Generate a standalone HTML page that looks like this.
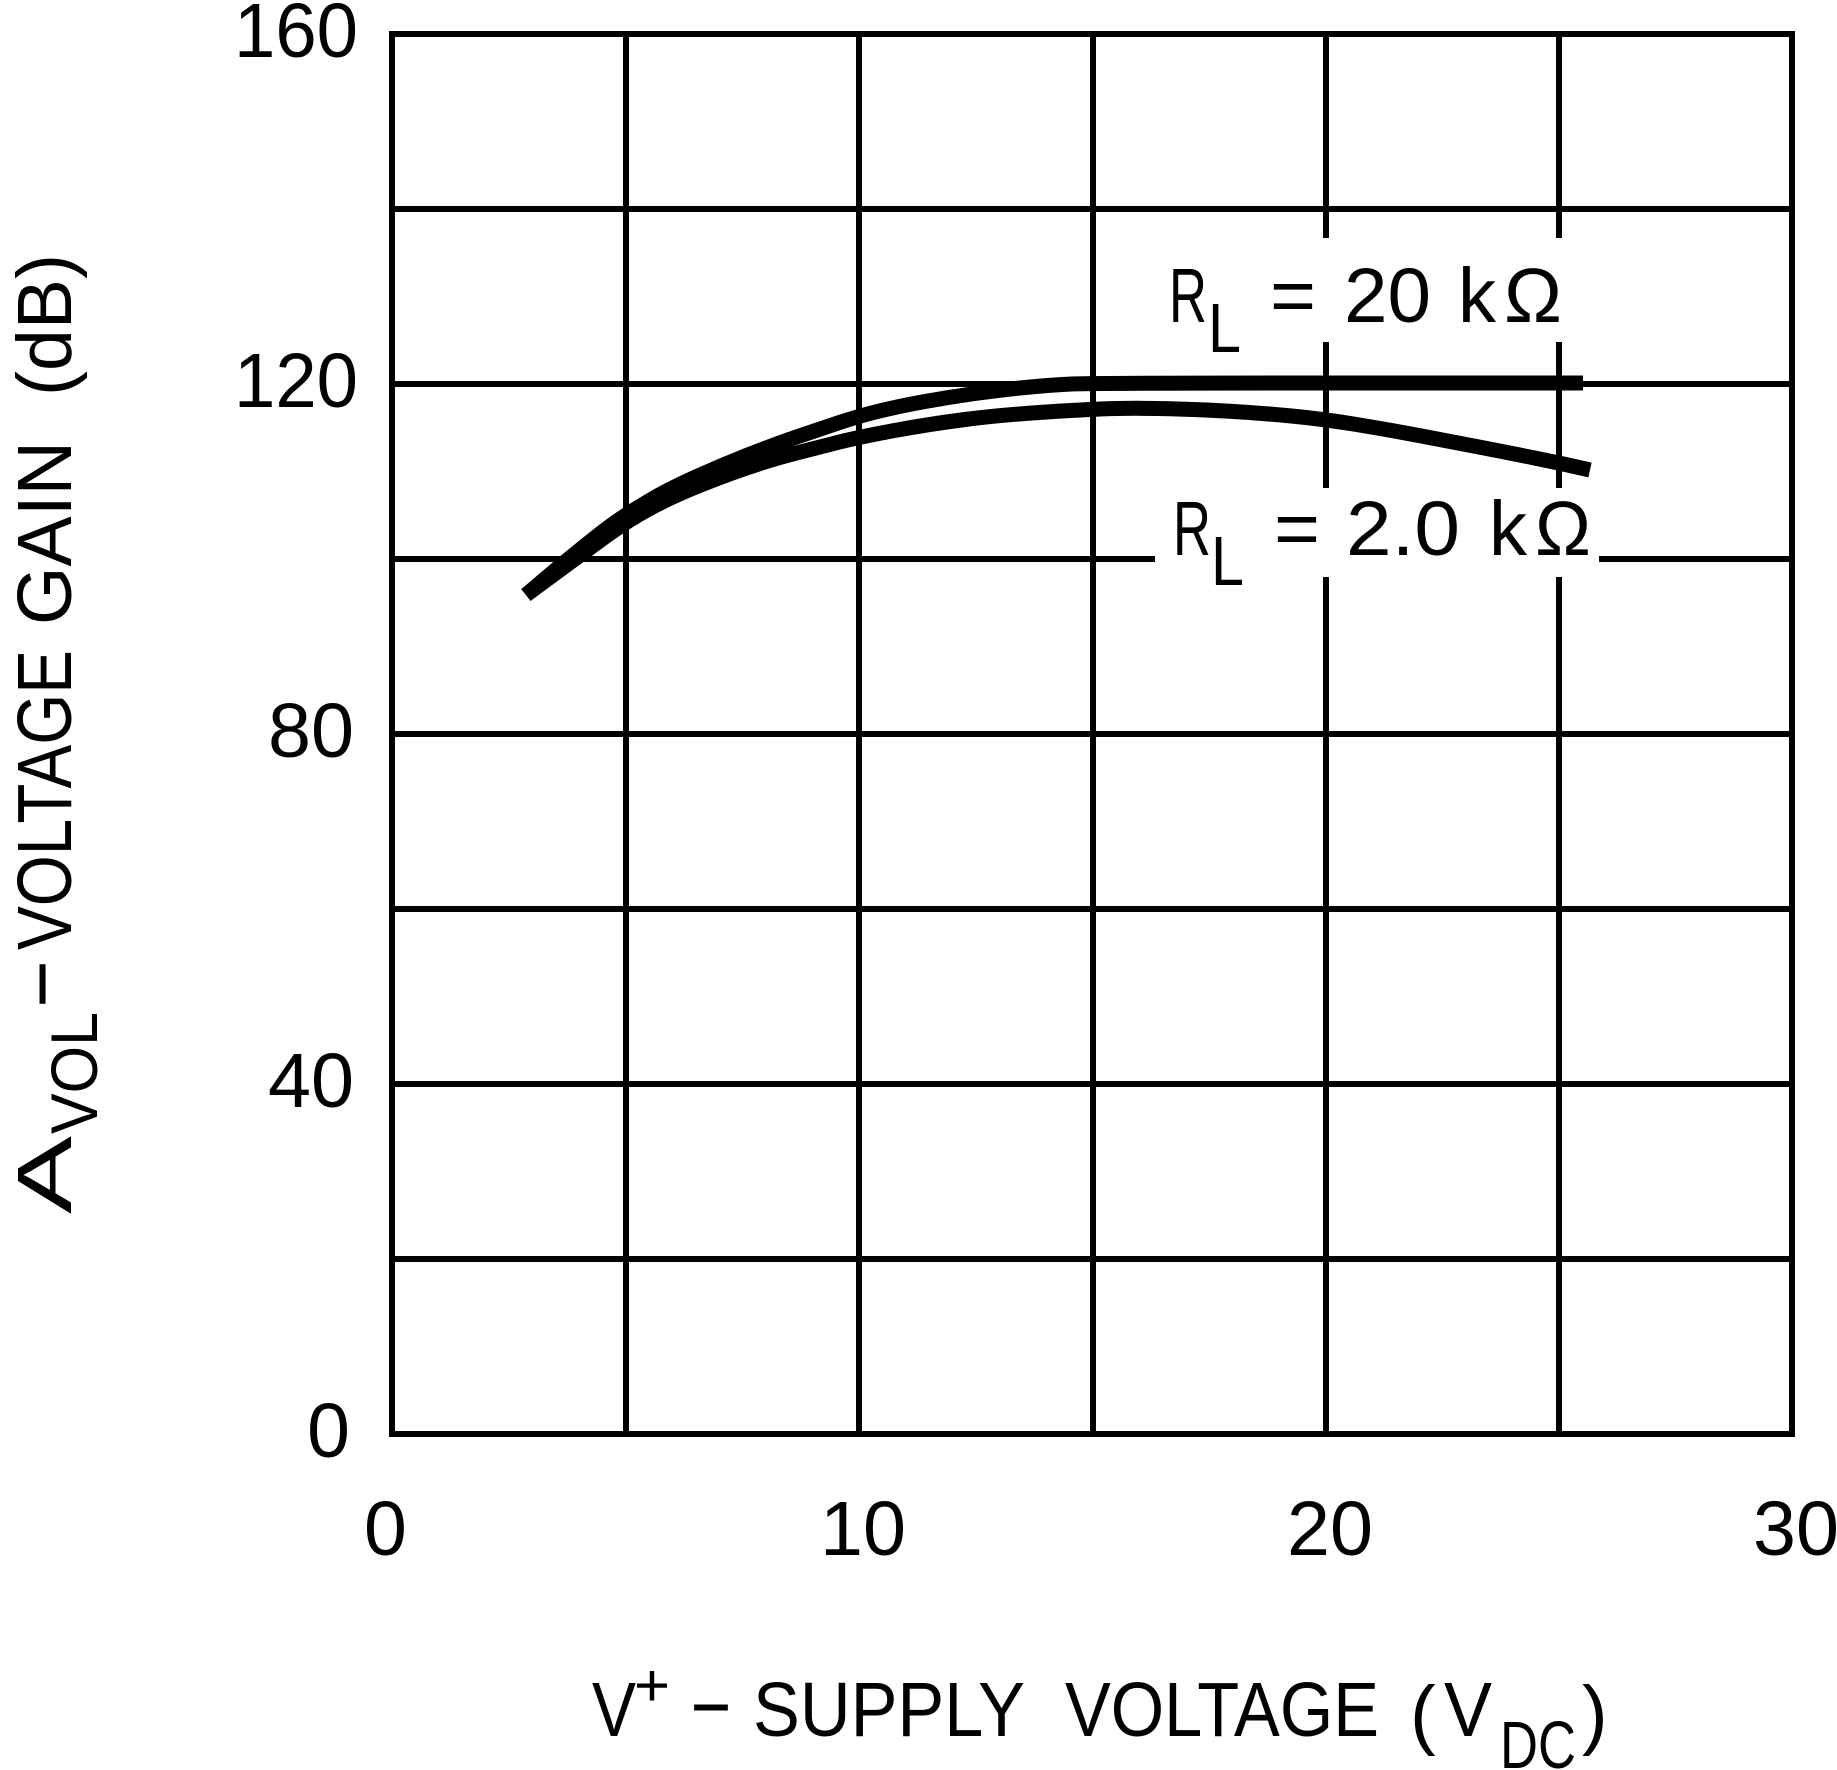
<!DOCTYPE html>
<html><head><meta charset="utf-8"><style>html,body{margin:0;padding:0;background:#fff;}svg{display:block}</style></head>
<body>
<svg width="1837" height="1770" viewBox="0 0 1837 1770" xmlns="http://www.w3.org/2000/svg" font-family="'Liberation Sans', sans-serif" fill="#000">
<rect x="0" y="0" width="1837" height="1770" fill="#fff"/>
<g stroke="#000" stroke-width="6" fill="none">
  <line x1="626" y1="34" x2="626" y2="1434"/>
  <line x1="859" y1="34" x2="859" y2="1434"/>
  <line x1="1093" y1="34" x2="1093" y2="1434"/>
  <line x1="1326" y1="34" x2="1326" y2="1434"/>
  <line x1="1559" y1="34" x2="1559" y2="1434"/>
  <line x1="392" y1="209" x2="1792" y2="209"/>
  <line x1="392" y1="384" x2="1792" y2="384"/>
  <line x1="392" y1="559" x2="1792" y2="559"/>
  <line x1="392" y1="734" x2="1792" y2="734"/>
  <line x1="392" y1="909" x2="1792" y2="909"/>
  <line x1="392" y1="1084" x2="1792" y2="1084"/>
  <line x1="392" y1="1259" x2="1792" y2="1259"/>
  <rect x="392" y="34" width="1400" height="1400"/>
</g>
<rect x="1160" y="238" width="430" height="104" fill="#fff"/>
<rect x="1155" y="488" width="444" height="89" fill="#fff"/>
<g stroke="#000" stroke-width="15" fill="none" stroke-linejoin="round" stroke-linecap="butt">
  <path d="M526,595 L543,580.5 Q560,566 581.5,548.5 Q603,531 615,522.5 Q627,514 647,502 Q667,490 693.5,478 Q720,466 746.5,455.5 Q773,445 796.5,437 Q820,429 839.5,422.5 Q859,416 879.5,411 Q900,406 925,401.5 Q950,397 975,393.5 Q1000,390 1025,387.5 Q1050,385 1071.5,384 Q1093,383 1338,383 L1583,383"/>
  <path d="M526,595 L543,582.5 Q560,570 571.5,561.5 Q583,553 605,537 Q627,521 647,510 Q667,499 693.5,488 Q720,477 746.5,468 Q773,459 796.5,453 Q820,447 839.5,442 Q859,437 894.5,430.5 Q930,424 965,419.5 Q1000,415 1046.5,412 Q1093,409 1116.5,408.5 Q1140,408 1170,408.75 Q1200,409.5 1230,411.25 Q1260,413 1291.5,416 Q1323,419 1356.5,424.5 Q1390,430 1421.5,436 Q1453,442 1481.5,447.5 Q1510,453 1534.5,458 Q1559,463 1574.5,466.5 L1590,470"/>
</g>
<g font-size="77">
  <text x="358" y="57" text-anchor="end" textLength="124" lengthAdjust="spacingAndGlyphs">160</text>
  <text x="358" y="407" text-anchor="end" textLength="124" lengthAdjust="spacingAndGlyphs">120</text>
  <text x="354" y="757" text-anchor="end" textLength="86" lengthAdjust="spacingAndGlyphs">80</text>
  <text x="354" y="1107" text-anchor="end" textLength="86" lengthAdjust="spacingAndGlyphs">40</text>
  <text x="350" y="1457" text-anchor="end">0</text>
  <text x="364" y="1555">0</text>
  <text x="820" y="1555" textLength="86" lengthAdjust="spacingAndGlyphs">10</text>
  <text x="1287" y="1555" textLength="86" lengthAdjust="spacingAndGlyphs">20</text>
  <text x="1753" y="1555" textLength="86" lengthAdjust="spacingAndGlyphs">30</text>
  <text x="1169" y="322" textLength="38" lengthAdjust="spacingAndGlyphs">R</text>
  <text x="1270" y="322" textLength="46" lengthAdjust="spacingAndGlyphs">=</text>
  <text x="1344" y="322" textLength="87" lengthAdjust="spacingAndGlyphs">20</text>
  <text x="1458" y="322" textLength="38" lengthAdjust="spacingAndGlyphs">k</text>
  <text x="1504" y="322" textLength="58" lengthAdjust="spacingAndGlyphs">Ω</text>
  <text x="1173" y="555" textLength="38" lengthAdjust="spacingAndGlyphs">R</text>
  <text x="1274" y="555" textLength="46" lengthAdjust="spacingAndGlyphs">=</text>
  <text x="1346" y="555" textLength="114" lengthAdjust="spacingAndGlyphs">2.0</text>
  <text x="1489" y="555" textLength="38" lengthAdjust="spacingAndGlyphs">k</text>
  <text x="1535" y="555" textLength="56" lengthAdjust="spacingAndGlyphs">Ω</text>
  <text x="592" y="1736" textLength="44" lengthAdjust="spacingAndGlyphs">V</text>
  <text x="688" y="1728" textLength="46" lengthAdjust="spacingAndGlyphs">-</text>
  <text x="753" y="1736" textLength="272" lengthAdjust="spacingAndGlyphs">SUPPLY</text>
  <text x="1065" y="1736" textLength="314" lengthAdjust="spacingAndGlyphs">VOLTAGE</text>
  <text x="1410" y="1740">(</text>
  <text x="1444" y="1736" textLength="48" lengthAdjust="spacingAndGlyphs">V</text>
  <text x="1582" y="1740">)</text>
</g>
<g font-size="70">
  <text x="1208" y="352" textLength="33" lengthAdjust="spacingAndGlyphs">L</text>
  <text x="1211" y="585" textLength="33" lengthAdjust="spacingAndGlyphs">L</text>
</g>
<text x="634" y="1706" font-size="60" textLength="36" lengthAdjust="spacingAndGlyphs">+</text>
<text x="1500" y="1768" font-size="67" textLength="76" lengthAdjust="spacingAndGlyphs">DC</text>
<g transform="rotate(-90)" font-size="77">
  <text x="-1214" y="71" textLength="78" lengthAdjust="spacingAndGlyphs">A</text>
  <text x="-1011" y="63" textLength="54" lengthAdjust="spacingAndGlyphs">-</text>
  <text x="-950" y="71" textLength="300" lengthAdjust="spacingAndGlyphs">VOLTAGE</text>
  <text x="-625" y="71" textLength="184" lengthAdjust="spacingAndGlyphs">GAIN</text>
  <text x="-396" y="71" textLength="142" lengthAdjust="spacingAndGlyphs">(dB)</text>
  <text x="-1134" y="97" font-size="66" textLength="122" lengthAdjust="spacingAndGlyphs">VOL</text>
</g>
</svg>
</body></html>
